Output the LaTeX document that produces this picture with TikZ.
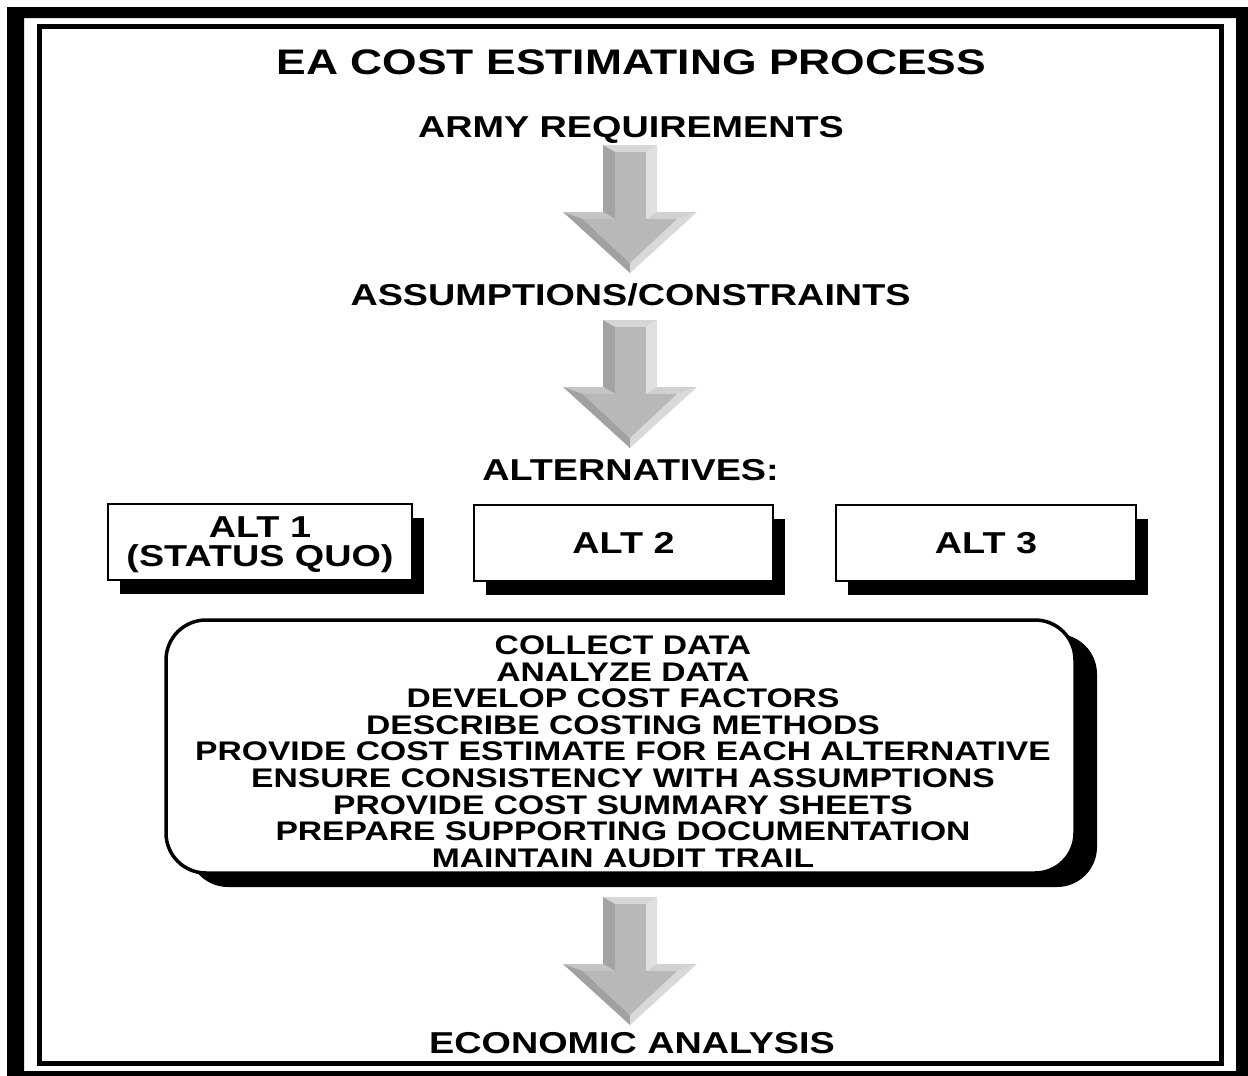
\documentclass[tikz,border=0pt]{standalone}
\usepackage{fontspec}
\setmainfont{Liberation Sans}[FakeStretch=1.25]
\usetikzlibrary{shadows}

\tikzset{
  heading/.style={font=\bfseries\fontsize{30.2}{30.2}\selectfont, anchor=base, inner sep=0pt},
  titletext/.style={font=\bfseries\fontsize{35.5}{35.5}\selectfont, anchor=base, inner sep=0pt},
  altbox/.style={draw, fill=white, line width=2.5pt, minimum height=76pt, inner sep=0pt,
    align=center, text depth=0pt, font=\bfseries\fontsize{30.2}{29}\selectfont,
    drop shadow={shadow xshift=12pt, shadow yshift=-14pt, opacity=1, fill=black}},
  taskbox/.style={draw, fill=white, line width=3.5pt, rounded corners=40pt, inner sep=0pt,
    drop shadow={shadow xshift=22pt, shadow yshift=-14pt, opacity=1, fill=black}},
  tasktext/.style={align=center, inner sep=0pt, text depth=0pt,
    font=\bfseries\fontsize{26.9}{26.6}\selectfont},
  % shaded faces of the bevelled block arrow
  pics/bevelarrow/.style={code={
    \fill[black!16] (-27,0) -- (27,0) -- (16,7) -- (-15,7) -- cycle;
    \fill[black!36] (-27,0) -- (-15,7) -- (-15,74) -- (-27,67) -- cycle;
    \fill[black!28] (-15,7) -- (16,7) -- (16,74) -- (-15,74) -- cycle;
    \fill[black!12] (27,0) -- (27,67) -- (16,74) -- (16,7) -- cycle;
    \fill[black!23] (-67,67) -- (-27,67) -- (-15,74) -- (-47,74) -- cycle;
    \fill[black!18] (27,67) -- (67,67) -- (47,74) -- (16,74) -- cycle;
    \fill[black!37] (-67,67) -- (-47,74) -- (0,118) -- (0,128) -- cycle;
    \fill[black!15] (67,67) -- (0,128) -- (0,118) -- (47,74) -- cycle;
    \fill[black!28] (-47,74) -- (47,74) -- (0,118) -- cycle;
  }}
}

\begin{document}
\begin{tikzpicture}[x=1pt, y=-1pt]
  \useasboundingbox (0,0) rectangle (1248,1076);
  \fill[white] (0,0) rectangle (1248,1076);

  % double frame
  \fill[black, even odd rule] (7,7) rectangle (1248,1076) (24,18) rectangle (1236,1071);
  \draw[line width=5pt] (39,26.5) rectangle (1221.5,1063);

  % headings
  \node[titletext] (title) at (631.5,74.7) {EA COST ESTIMATING PROCESS};
  \node[heading] (armyreq) at (631,137.8) {ARMY REQUIREMENTS};
  \node[heading] (assump) at (630.5,305.8) {ASSUMPTIONS/CONSTRAINTS};
  \node[heading] (alts) at (630.5,480.8) {ALTERNATIVES:};
  \node[heading] (econ) at (632,1053.8) {ECONOMIC ANALYSIS};

  % block arrows
  \pic at (630,145) {bevelarrow};
  \pic at (630,320) {bevelarrow};
  \pic at (630,897) {bevelarrow};

  % alternatives
  \node[altbox, minimum width=304pt] (alt1) at (260,542) {ALT 1\\(STATUS QUO)};
  \node[altbox, minimum width=299pt] (alt2) at (623.5,543) {ALT 2};
  \node[altbox, minimum width=300pt] (alt3) at (986,543) {ALT 3};

  % costing tasks
  \node[taskbox, minimum width=909pt, minimum height=253pt] (tasks) at (620.5,746.5) {};
  \node[tasktext] (tasklist) at (623,751.5) {COLLECT DATA\\ANALYZE DATA\\DEVELOP COST FACTORS\\
    DESCRIBE COSTING METHODS\\PROVIDE COST ESTIMATE FOR EACH ALTERNATIVE\\
    ENSURE CONSISTENCY WITH ASSUMPTIONS\\PROVIDE COST SUMMARY SHEETS\\
    PREPARE SUPPORTING DOCUMENTATION\\MAINTAIN AUDIT TRAIL};
\end{tikzpicture}
\end{document}
